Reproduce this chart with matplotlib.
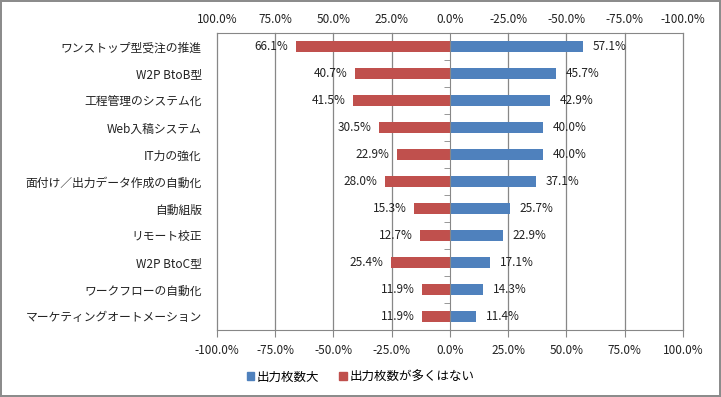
import matplotlib.pyplot as plt
from matplotlib.patches import Patch
from matplotlib.ticker import FuncFormatter
import numpy as np

plt.rcParams['font.family'] = ['Noto Sans CJK JP', 'DejaVu Sans']

# データ（上から順）
categories = ['ワンストップ型受注の推進', 'W2P BtoB型', '工程管理のシステム化', 'Web入稿システム',
              'IT力の強化', '面付け／出力データ作成の自動化', '自動組版', 'リモート校正',
              'W2P BtoC型', 'ワークフローの自動化', 'マーケティングオートメーション']
large_output = [57.1, 45.7, 42.9, 40.0, 40.0, 37.1, 25.7, 22.9, 17.1, 14.3, 11.4]   # 出力枚数大
not_large = [66.1, 40.7, 41.5, 30.5, 22.9, 28.0, 15.3, 12.7, 25.4, 11.9, 11.9]      # 出力枚数が多くはない
tick_values = [-1.0, -0.75, -0.5, -0.25, 0.0, 0.25, 0.5, 0.75, 1.0]

blue = '#4F81BD'
red = '#C0504D'
grid_c = '#878787'

fig = plt.figure(figsize=(7.21, 3.97), dpi=100)
fig.patch.set_edgecolor('#8c8c8c')
fig.patch.set_linewidth(1.5)
ax = fig.add_axes([0.301, 0.169, 0.646, 0.748])

y = np.arange(len(categories))
blue_vals = np.array(large_output) / 100
red_vals = -np.array(not_large) / 100

ax.barh(y, blue_vals, height=0.42, color=blue, zorder=3)
ax.barh(y, red_vals, height=0.42, color=red, zorder=3)

for yi, v in zip(y, blue_vals):
    ax.annotate(f'{v:.1%}', (v, yi), xytext=(7, 0), textcoords='offset points',
                ha='left', va='center', fontsize=8.5, color='#222222')
for yi, v in zip(y, red_vals):
    ax.annotate(f'{-v:.1%}', (v, yi), xytext=(-5.5, 0), textcoords='offset points',
                ha='right', va='center', fontsize=8.5, color='#222222')

ax.set_xlim(-1, 1)
ax.set_ylim(len(categories) - 0.5, -0.5)

# 縦グリッド線
for t in tick_values:
    if t != 0:
        ax.axvline(t, color=grid_c, lw=0.9, zorder=1, clip_on=False)

# 下側の軸
ax.set_xticks(tick_values)
ax.xaxis.set_major_formatter(FuncFormatter(lambda v, p: f'{v:.1%}'))
ax.tick_params(axis='x', direction='out', length=5, color=grid_c, labelsize=8.5,
               labelcolor='#222222', pad=5)
for s in ['left', 'right', 'top']:
    ax.spines[s].set_visible(False)
ax.spines['bottom'].set_color(grid_c)

# 0 の位置の縦軸（区切りの目盛り）
ax.spines['left'].set_visible(True)
ax.spines['left'].set_position(('data', 0))
ax.spines['left'].set_color(grid_c)
ax.spines['left'].set_zorder(4)
ax.set_yticks(y)
ax.set_yticklabels([])
ax.tick_params(axis='y', which='major', length=0)
ax.set_yticks(np.arange(len(categories) + 1) - 0.5, minor=True)
ax.tick_params(axis='y', which='minor', direction='out', length=4, color=grid_c)

# 項目ラベル
sec = ax.secondary_yaxis('left')
sec.set_yticks(y)
sec.set_yticklabels(categories, fontsize=8.5, color='#222222')
sec.tick_params(length=0, pad=11)
sec.spines['left'].set_visible(False)

# 上側の軸（反転）
top = ax.twiny()
top.set_xlim(1, -1)
top.set_xticks(tick_values)
top.xaxis.set_major_formatter(FuncFormatter(lambda v, p: f'{v:.1%}'))
top.tick_params(axis='x', direction='in', length=0, labelsize=8.5, labelcolor='#222222', pad=5)
for s in ['left', 'right', 'bottom']:
    top.spines[s].set_visible(False)
top.spines['top'].set_color(grid_c)

handles = [Patch(color=blue, label='出力枚数大'), Patch(color=red, label='出力枚数が多くはない')]
fig.legend(handles=handles, loc='center', bbox_to_anchor=(0.5, 0.05), ncol=2, frameon=False,
           fontsize=9, handlelength=0.6, handleheight=0.6, handletextpad=0.2, columnspacing=1.6)

fig.savefig('out.png', dpi=100)
